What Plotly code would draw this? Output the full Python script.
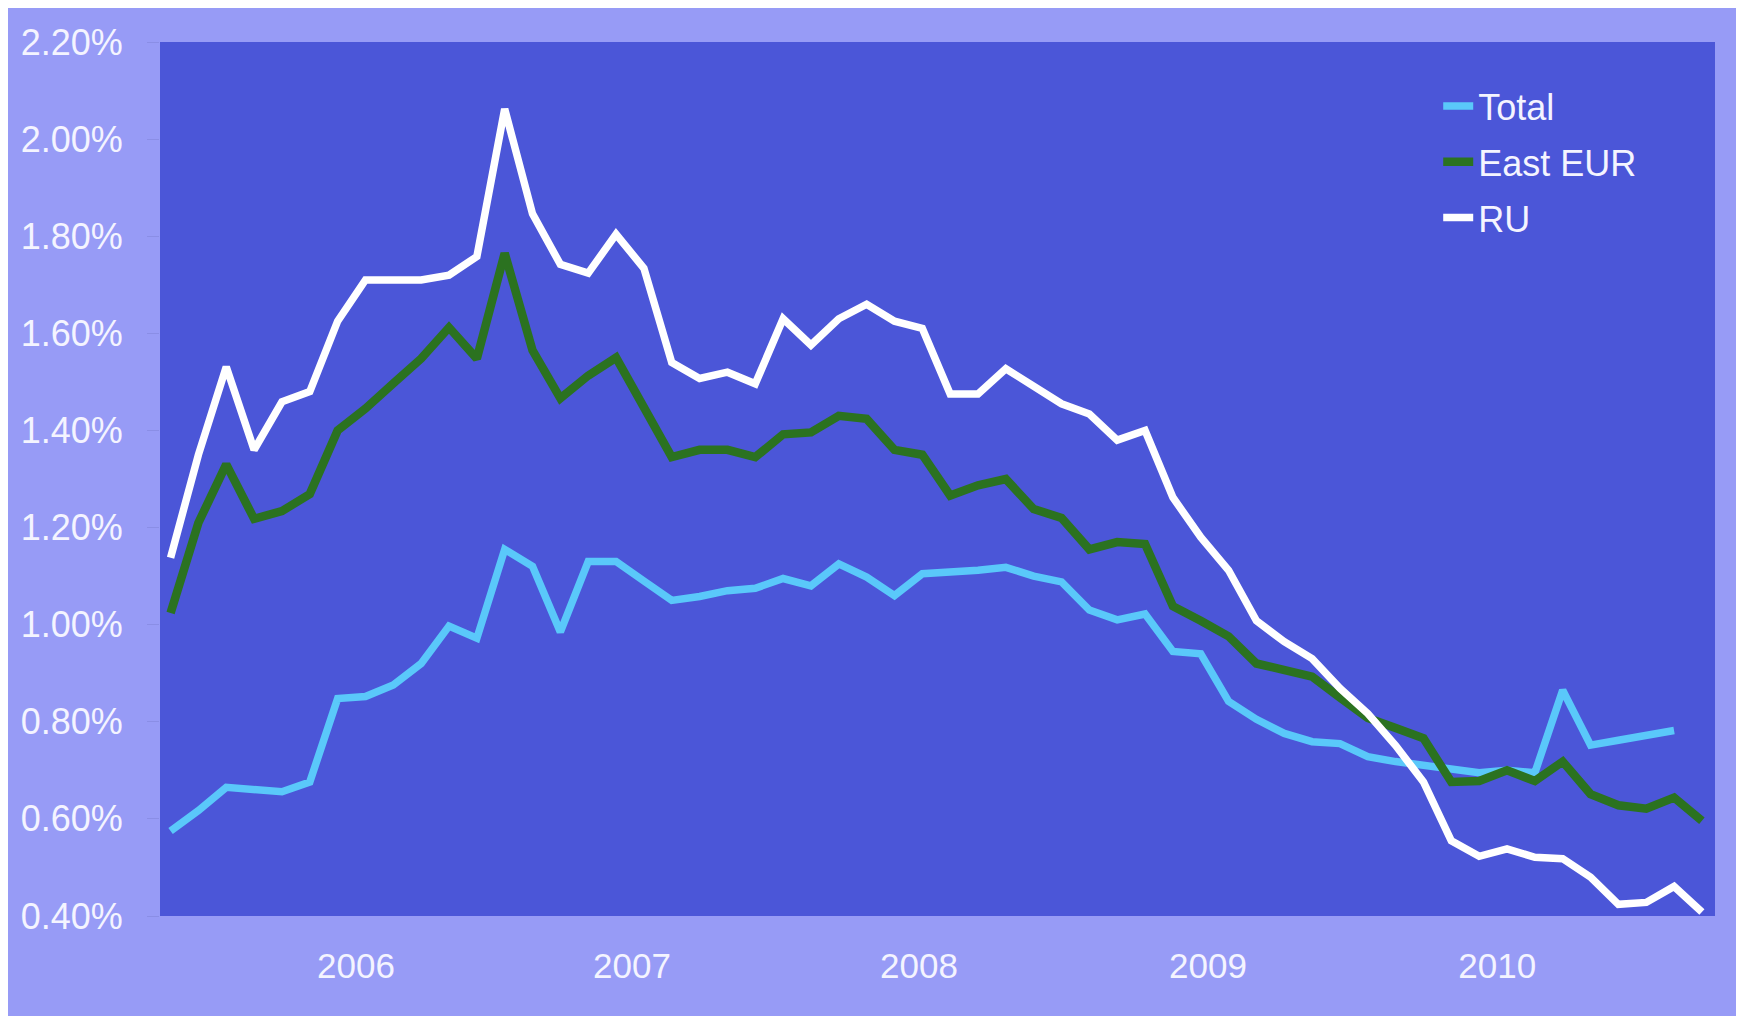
import plotly.graph_objects as go

# monthly observations (index positions along the category axis)
periods = list(range(56))

total = [0.575, 0.617, 0.665, 0.66, 0.656, 0.676, 0.848, 0.852, 0.876, 0.92,
         0.997, 0.972, 1.155, 1.12, 0.985, 1.13, 1.13, 1.09, 1.05, 1.058,
         1.07, 1.075, 1.095, 1.08, 1.125, 1.098, 1.06, 1.105, 1.107, 1.112,
         1.118, 1.10, 1.088, 1.03, 1.01, 1.022, 0.945, 0.94, 0.842, 0.805,
         0.776, 0.759, 0.755, 0.728, 0.718, 0.71, 0.70, 0.695, 0.70, 0.695,
         0.865, 0.752, 0.762, 0.772, 0.782, None]

east_eur = [1.024, 1.21, 1.33, 1.218, 1.234, 1.269, 1.40, 1.445, 1.497, 1.548,
            1.612, 1.548, 1.765, 1.565, 1.466, 1.513, 1.55, 1.448, 1.345, 1.36,
            1.36, 1.345, 1.392, 1.396, 1.43, 1.424, 1.36, 1.35, 1.266, 1.287,
            1.30, 1.238, 1.22, 1.155, 1.17, 1.166, 1.038, 1.008, 0.976, 0.92,
            0.908, 0.893, 0.85, 0.808, 0.787, 0.766, 0.676, 0.678, 0.70, 0.678,
            0.718, 0.651, 0.628, 0.621, 0.644, 0.596]

ru = [1.138, 1.35, 1.531, 1.36, 1.459, 1.48, 1.625, 1.71, 1.71, 1.71,
      1.72, 1.758, 2.062, 1.846, 1.742, 1.724, 1.804, 1.734, 1.54, 1.507,
      1.52, 1.496, 1.63, 1.576, 1.63, 1.66, 1.625, 1.61, 1.475, 1.475,
      1.527, 1.49, 1.455, 1.434, 1.38, 1.40, 1.262, 1.18, 1.112, 1.008,
      0.965, 0.93, 0.869, 0.817, 0.751, 0.676, 0.555, 0.523, 0.538, 0.521,
      0.518, 0.48, 0.424, 0.428, 0.461, 0.408]

year_labels = ["2006", "2007", "2008", "2009", "2010"]
year_positions = [6.66, 16.57, 26.88, 37.26, 47.65]
y_ticks = [0.4, 0.6, 0.8, 1.0, 1.2, 1.4, 1.6, 1.8, 2.0, 2.2]
y_tick_labels = [f"{v:.2f}%" for v in y_ticks]

OUTER = "#979bf6"
PLOT_BG = "#4b56d8"
TEXT = "#f4f4ff"
FONT = "Liberation Sans, Arial, sans-serif"

fig = go.Figure()
series = [
    ("Total", total, "#5ac8fa", 7.5),
    ("East EUR", east_eur, "#2b7220", 8.5),
    ("RU", ru, "#ffffff", 7.5),
]
for name, vals, color, w in series:
    fig.add_trace(go.Scatter(
        x=periods, y=vals, mode="lines", name=name, legendgroup=name,
        line=dict(color=color, width=w), connectgaps=False,
    ))

fig.update_layout(
    width=1736, height=1008,
    margin=dict(l=152, r=29, t=34, b=100),
    paper_bgcolor=OUTER,
    plot_bgcolor=PLOT_BG,
    font=dict(family=FONT, size=36, color=TEXT),
    showlegend=True,
    legend=dict(
        x=0.822, y=0.961, xanchor="left", yanchor="top",
        bgcolor="rgba(0,0,0,0)", borderwidth=0,
        font=dict(family=FONT, size=36, color=TEXT),
        tracegroupgap=6, traceorder="grouped",
    ),
    xaxis=dict(
        range=[-0.38, 55.47],
        tickmode="array", tickvals=year_positions, ticktext=year_labels,
        showgrid=False, zeroline=False, showline=False, ticks="",
        ticklabelstandoff=26,
        tickfont=dict(family=FONT, size=35, color=TEXT),
    ),
    yaxis=dict(
        range=[0.4, 2.2],
        tickmode="array", tickvals=y_ticks, ticktext=y_tick_labels,
        showgrid=False, zeroline=False, showline=False,
        ticks="outside", ticklen=12, tickwidth=1, tickcolor="#8a8ee6",
        ticklabelstandoff=17,
        tickfont=dict(family=FONT, size=36, color=TEXT),
    ),
)

fig.write_html("out.html")
